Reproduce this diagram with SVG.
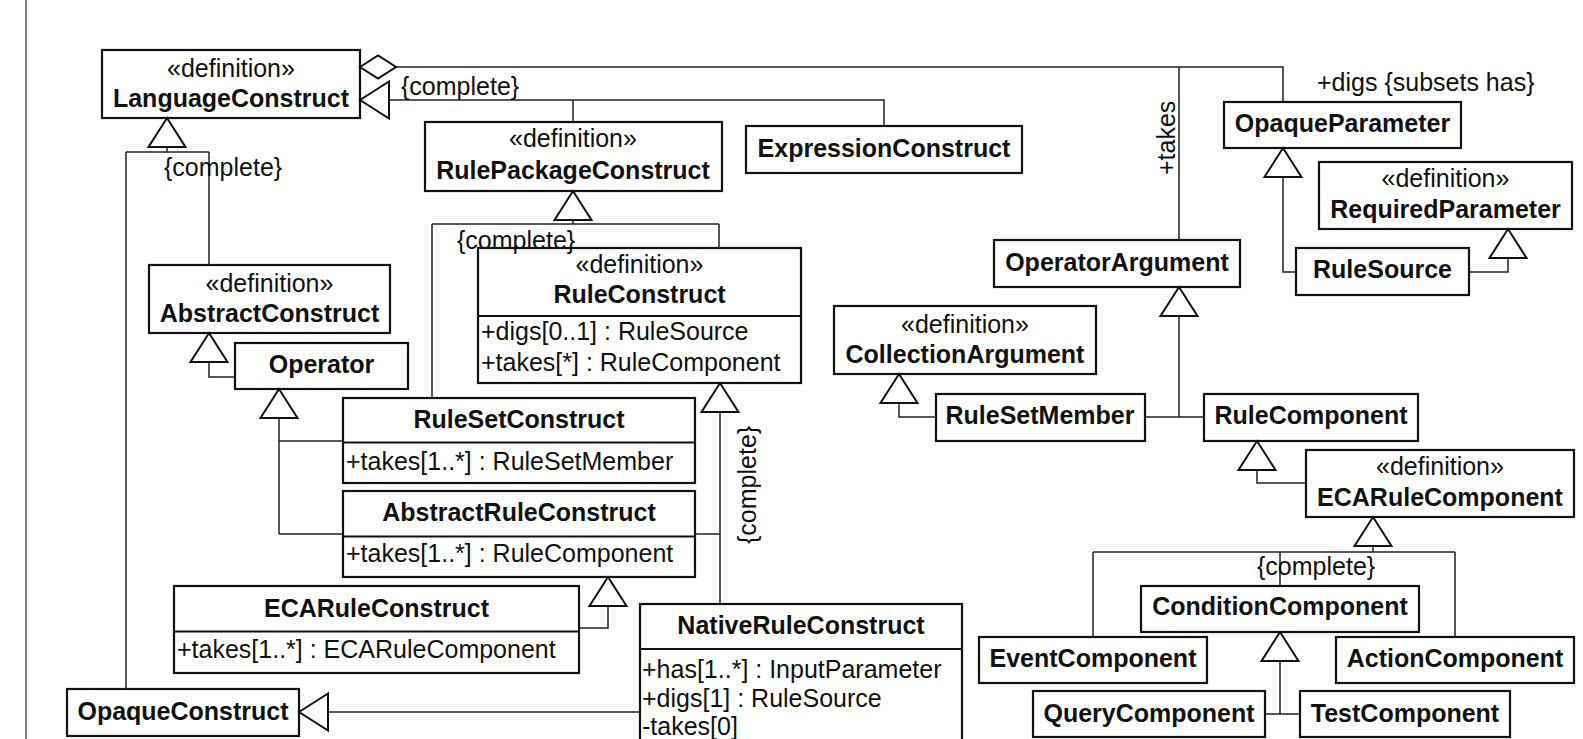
<svg xmlns="http://www.w3.org/2000/svg" width="1583" height="739" viewBox="0 0 1583 739">
  <style>
    text { font-family: "Liberation Sans", Arial, sans-serif; font-size: 25px; fill: #111; }
    .nm { font-weight: bold; text-anchor: middle; }
    .st { text-anchor: middle; }
    .box { fill: #fff; stroke: #111; stroke-width: 2.2; }
    .div { stroke: #111; stroke-width: 2; }
    .conn { fill: none; stroke: #222; stroke-width: 1.5; }
    .tri { fill: #fff; stroke: #111; stroke-width: 2; }
    .frame { stroke: #555; stroke-width: 1.5; }
  </style>
  <defs>
    <!-- hollow generalization triangle, tip at the origin, pointing up -->
    <path id="gen" class="tri" d="M0,0 L18.5,29 L-18.5,29 Z"/>
  </defs>
  <rect width="1583" height="739" fill="#fff"/>
  <line class="frame" x1="26" y1="0" x2="26" y2="739"/>

  <g id="LanguageConstruct">
    <rect class="box" x="102" y="50" width="258" height="68"/>
    <text class="st" x="231" y="77">«definition»</text>
    <text class="nm" x="231" y="107">LanguageConstruct</text>
  </g>
  <g id="RulePackageConstruct">
    <rect class="box" x="425" y="122" width="297" height="69"/>
    <text class="st" x="573" y="147">«definition»</text>
    <text class="nm" x="573" y="179">RulePackageConstruct</text>
  </g>
  <g id="ExpressionConstruct">
    <rect class="box" x="746" y="126" width="276" height="47"/>
    <text class="nm" x="884" y="157">ExpressionConstruct</text>
  </g>
  <g id="AbstractConstruct">
    <rect class="box" x="149" y="265" width="241" height="68"/>
    <text class="st" x="269.5" y="292">«definition»</text>
    <text class="nm" x="269.5" y="322">AbstractConstruct</text>
  </g>
  <g id="Operator">
    <rect class="box" x="235" y="343" width="173" height="46"/>
    <text class="nm" x="321.5" y="373">Operator</text>
  </g>
  <g id="RuleConstruct">
    <rect class="box" x="478" y="248" width="323" height="135"/>
    <line class="div" x1="478" y1="316" x2="801" y2="316"/>
    <text class="st" x="639.5" y="273">«definition»</text>
    <text class="nm" x="639.5" y="303">RuleConstruct</text>
    <text x="481" y="340">+digs[0..1] : RuleSource</text>
    <text x="481" y="371">+takes[*] : RuleComponent</text>
  </g>
  <g id="RuleSetConstruct">
    <rect class="box" x="343" y="398" width="352" height="85"/>
    <line class="div" x1="343" y1="442.5" x2="695" y2="442.5"/>
    <text class="nm" x="519" y="428">RuleSetConstruct</text>
    <text x="346" y="470">+takes[1..*] : RuleSetMember</text>
  </g>
  <g id="AbstractRuleConstruct">
    <rect class="box" x="343" y="491" width="352" height="86"/>
    <line class="div" x1="343" y1="536.5" x2="695" y2="536.5"/>
    <text class="nm" x="519" y="521">AbstractRuleConstruct</text>
    <text x="346" y="562">+takes[1..*] : RuleComponent</text>
  </g>
  <g id="ECARuleConstruct">
    <rect class="box" x="174" y="586" width="405" height="87"/>
    <line class="div" x1="174" y1="631.5" x2="579" y2="631.5"/>
    <text class="nm" x="376.5" y="617">ECARuleConstruct</text>
    <text x="177" y="658">+takes[1..*] : ECARuleComponent</text>
  </g>
  <g id="OpaqueConstruct">
    <rect class="box" x="67" y="689" width="232" height="47"/>
    <text class="nm" x="183" y="720">OpaqueConstruct</text>
  </g>
  <g id="NativeRuleConstruct">
    <rect class="box" x="640" y="604" width="322" height="160"/>
    <line class="div" x1="640" y1="649" x2="962" y2="649"/>
    <text class="nm" x="801" y="634">NativeRuleConstruct</text>
    <text x="642" y="678">+has[1..*] : InputParameter</text>
    <text x="642" y="707">+digs[1] : RuleSource</text>
    <text x="642" y="735">-takes[0]</text>
  </g>
  <g id="CollectionArgument">
    <rect class="box" x="834" y="306" width="262" height="68"/>
    <text class="st" x="965" y="333">«definition»</text>
    <text class="nm" x="965" y="363">CollectionArgument</text>
  </g>
  <g id="RuleSetMember">
    <rect class="box" x="936" y="394" width="209" height="47"/>
    <text class="nm" x="1040" y="424">RuleSetMember</text>
  </g>
  <g id="OperatorArgument">
    <rect class="box" x="994" y="240" width="246" height="47"/>
    <text class="nm" x="1117" y="271">OperatorArgument</text>
  </g>
  <g id="OpaqueParameter">
    <rect class="box" x="1224" y="102" width="237" height="46"/>
    <text class="nm" x="1342.5" y="132">OpaqueParameter</text>
  </g>
  <g id="RequiredParameter">
    <rect class="box" x="1319" y="162" width="253" height="67"/>
    <text class="st" x="1445.5" y="187">«definition»</text>
    <text class="nm" x="1445.5" y="218">RequiredParameter</text>
  </g>
  <g id="RuleSource">
    <rect class="box" x="1296" y="248" width="173" height="47"/>
    <text class="nm" x="1382.5" y="278">RuleSource</text>
  </g>
  <g id="RuleComponent">
    <rect class="box" x="1204" y="394" width="214" height="47"/>
    <text class="nm" x="1311" y="424">RuleComponent</text>
  </g>
  <g id="ECARuleComponent">
    <rect class="box" x="1306" y="450" width="268" height="67"/>
    <text class="st" x="1440" y="475">«definition»</text>
    <text class="nm" x="1440" y="506">ECARuleComponent</text>
  </g>
  <g id="ConditionComponent">
    <rect class="box" x="1141" y="586" width="278" height="46"/>
    <text class="nm" x="1280" y="615">ConditionComponent</text>
  </g>
  <g id="EventComponent">
    <rect class="box" x="979" y="637" width="228" height="46"/>
    <text class="nm" x="1093" y="667">EventComponent</text>
  </g>
  <g id="ActionComponent">
    <rect class="box" x="1336" y="637" width="238" height="46"/>
    <text class="nm" x="1455" y="667">ActionComponent</text>
  </g>
  <g id="QueryComponent">
    <rect class="box" x="1033" y="691" width="232" height="46"/>
    <text class="nm" x="1149" y="722">QueryComponent</text>
  </g>
  <g id="TestComponent">
    <rect class="box" x="1300" y="691" width="210" height="46"/>
    <text class="nm" x="1405" y="722">TestComponent</text>
  </g>

  <g id="connectors">
    <!-- aggregation from LanguageConstruct -->
    <path class="conn" d="M396,67 H1283 V102 M1179,67 V240"/>
    <polygon class="tri" points="360,67 378,55.5 396,67 378,78.5"/>
    <!-- generalizations -->
    <path class="conn" d="M389,100 H884 V126 M573,100 V122"/>
    <use href="#gen" transform="translate(360,100) rotate(-90)"/>
    <path class="conn" d="M167,147 V152 M126,152 H209 M126,152 V689 M209,152 V265"/>
    <use href="#gen" transform="translate(167,118)"/>
    <path class="conn" d="M573,220 V224 M432,224 H719 M432,224 V398 M719,224 V248"/>
    <use href="#gen" transform="translate(573,191)"/>
    <path class="conn" d="M209,362 V377 H235"/>
    <use href="#gen" transform="translate(209,333)"/>
    <path class="conn" d="M279,418 V534 M279,441 H343 M279,534 H343"/>
    <use href="#gen" transform="translate(279,389)"/>
    <path class="conn" d="M720,412 V604 M695,534 H720"/>
    <use href="#gen" transform="translate(720,383)"/>
    <path class="conn" d="M608,607 V628 H579"/>
    <use href="#gen" transform="translate(608,577)"/>
    <path class="conn" d="M329,712 H640"/>
    <use href="#gen" transform="translate(299,712) rotate(-90)"/>
    <path class="conn" d="M1283,177 V272 H1296"/>
    <use href="#gen" transform="translate(1283,148)"/>
    <path class="conn" d="M1508,258 V272 H1469"/>
    <use href="#gen" transform="translate(1508,229)"/>
    <path class="conn" d="M1179,316 V417 M1145,417 H1204"/>
    <use href="#gen" transform="translate(1179,287)"/>
    <path class="conn" d="M899,403 V417 H936"/>
    <use href="#gen" transform="translate(899,374)"/>
    <path class="conn" d="M1257,470 V483 H1306"/>
    <use href="#gen" transform="translate(1257,441)"/>
    <path class="conn" d="M1373,546 V552 M1093,552 H1455 M1093,552 V637 M1455,552 V637 M1280,552 V586"/>
    <use href="#gen" transform="translate(1373,517)"/>
    <path class="conn" d="M1280,661 V714 M1265,714 H1300"/>
    <use href="#gen" transform="translate(1280,632)"/>
    <!-- connector labels -->
    <text x="401" y="95">{complete}</text>
    <text x="164" y="176">{complete}</text>
    <text x="457" y="249">{complete}</text>
    <text transform="translate(756,544) rotate(-90)">{complete}</text>
    <text x="1257" y="575">{complete}</text>
    <text transform="translate(1175,175) rotate(-90)">+takes</text>
    <text x="1317" y="91">+digs {subsets has}</text>
  </g>
</svg>
